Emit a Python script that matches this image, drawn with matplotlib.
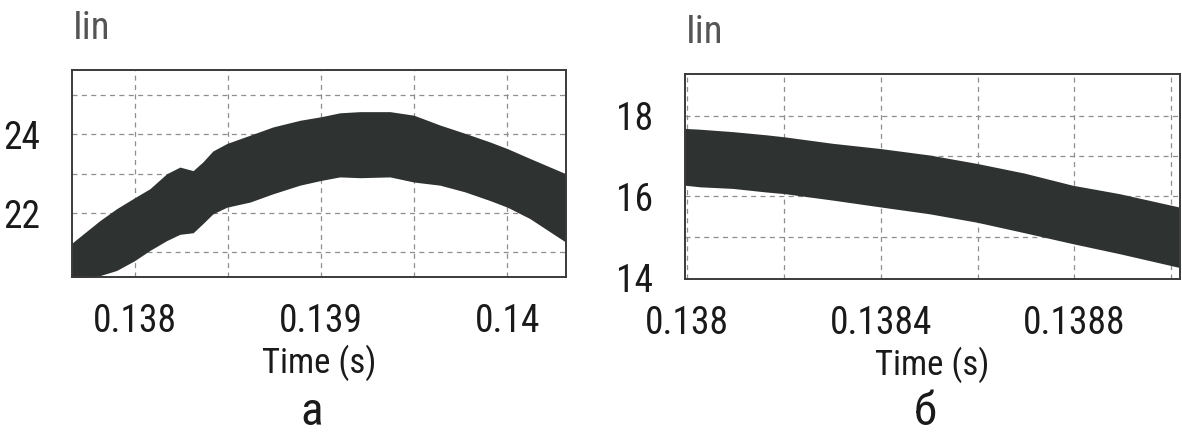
import matplotlib
matplotlib.use("Agg")
import matplotlib.pyplot as plt
from matplotlib import font_manager as fm
from matplotlib.ticker import FixedLocator, NullFormatter

# envelope of the rippled input current
# panel a
t_a = [0.137662, 0.137814, 0.137903, 0.138000, 0.138082, 0.138172, 0.138243,
       0.138314, 0.138366, 0.138420, 0.138495, 0.138619, 0.138742, 0.138887,
       0.139000, 0.139101, 0.139209, 0.139370, 0.139498, 0.139638, 0.139772,
       0.139906, 0.140000, 0.140121, 0.140314]
upper_a = [21.23, 21.81, 22.11, 22.39, 22.62, 23.00, 23.17, 23.08, 23.30,
           23.58, 23.77, 23.98, 24.19, 24.36, 24.45, 24.55, 24.58, 24.58,
           24.49, 24.24, 24.03, 23.81, 23.64, 23.39, 23.00]
lower_a = [20.30, 20.41, 20.54, 20.79, 21.05, 21.30, 21.46, 21.50, 21.73,
           21.98, 22.15, 22.28, 22.49, 22.71, 22.83, 22.92, 22.90, 22.92,
           22.79, 22.71, 22.54, 22.32, 22.15, 21.86, 21.26]

# panel b
t_b = [0.137996, 0.138027, 0.138095, 0.138165, 0.138202, 0.138301, 0.138400,
       0.138501, 0.138599, 0.138697, 0.138796, 0.138893, 0.139016]
upper_b = [17.69, 17.67, 17.61, 17.53, 17.48, 17.32, 17.19, 17.03, 16.82,
           16.58, 16.28, 16.07, 15.74]
lower_b = [16.28, 16.24, 16.20, 16.11, 16.07, 15.91, 15.74, 15.57, 15.36,
           15.10, 14.83, 14.58, 14.24]

xticks_a = [0.138, 0.139, 0.14]
xlabels_a = ["0.138", "0.139", "0.14"]
yticks_a = [22, 24]
xticks_b = [0.138, 0.1384, 0.1388]
xlabels_b = ["0.138", "0.1384", "0.1388"]
yticks_b = [14, 16, 18]

# narrow font like the original, if there is one
font = "Liberation Sans"
for name in ["Liberation Sans Narrow", "Roboto Condensed", "DejaVu Sans Condensed"]:
    try:
        fm.findfont(fm.FontProperties(family=name), fallback_to_default=False)
        font = name
        break
    except ValueError:
        pass
narrow = font != "Liberation Sans"
k = 1.0 if narrow else 0.82
plt.rcParams["font.family"] = [font, "DejaVu Sans"]

band = "#2e3332"
fig = plt.figure(figsize=(11.82, 4.34), dpi=100)


def setup(ax, xlim, ylim, xmaj, xlab, xmin, ymaj, ymin):
    ax.set_xlim(*xlim)
    ax.set_ylim(*ylim)
    ax.xaxis.set_major_locator(FixedLocator(xmaj))
    ax.set_xticklabels(xlab)
    ax.xaxis.set_minor_locator(FixedLocator(xmin))
    ax.yaxis.set_major_locator(FixedLocator(ymaj))
    ax.set_yticklabels([str(v) for v in ymaj])
    ax.yaxis.set_minor_locator(FixedLocator(ymin))
    ax.xaxis.set_minor_formatter(NullFormatter())
    ax.yaxis.set_minor_formatter(NullFormatter())
    # keep minor grid lines that sit on labelled ticks
    ax.xaxis.remove_overlapping_locs = False
    ax.yaxis.remove_overlapping_locs = False
    ax.tick_params(which="both", length=0, labelsize=27 * k,
                   labelcolor="#1a1a1a")
    ax.tick_params(axis="x", pad=19)
    ax.tick_params(axis="y", pad=23)
    # dashed grid sits on the minor positions only
    ax.grid(which="minor", color="#8e8e8e", linestyle=(0, (4, 3.5)),
            linewidth=0.9)
    ax.set_axisbelow(True)
    for s in ax.spines.values():
        s.set_color("#3a3a3a")
        s.set_linewidth(1.4)
    ax.set_xlabel("Time (s)", fontsize=25 * k, labelpad=3, color="#1a1a1a")


ax1 = fig.add_axes([0.0609, 0.3618, 0.418, 0.477])
ax1.fill_between(t_a, lower_a, upper_a, color=band, linewidth=0)
setup(ax1, (0.137664, 0.140315), (20.375, 25.64), xticks_a, xlabels_a,
      [0.138, 0.1385, 0.139, 0.1395, 0.14], yticks_a,
      [21, 22, 23, 24, 25])

ax2 = fig.add_axes([0.5795, 0.357, 0.4188, 0.4724])
ax2.fill_between(t_b, lower_b, upper_b, color=band, linewidth=0)
setup(ax2, (0.137996, 0.139018), (13.95, 19.04), xticks_b, xlabels_b,
      [0.138, 0.1382, 0.1384, 0.1386, 0.1388, 0.139], yticks_b,
      [15, 16, 17, 18])

fig.text(73 / 1182, 1 - 39 / 434, "Iin", fontsize=28 * k, color="#555555",
         va="baseline", ha="left")
fig.text(686 / 1182, 1 - 43 / 434, "Iin", fontsize=28 * k, color="#555555",
         va="baseline", ha="left")
fig.text(312 / 1182, 1 - 425 / 434, "а", fontsize=34 * k, color="#1a1a1a",
         va="baseline", ha="center")
fig.text(925 / 1182, 1 - 425 / 434, "б", fontsize=34 * k, color="#1a1a1a",
         va="baseline", ha="center")

fig.savefig("out.png", dpi=100)
